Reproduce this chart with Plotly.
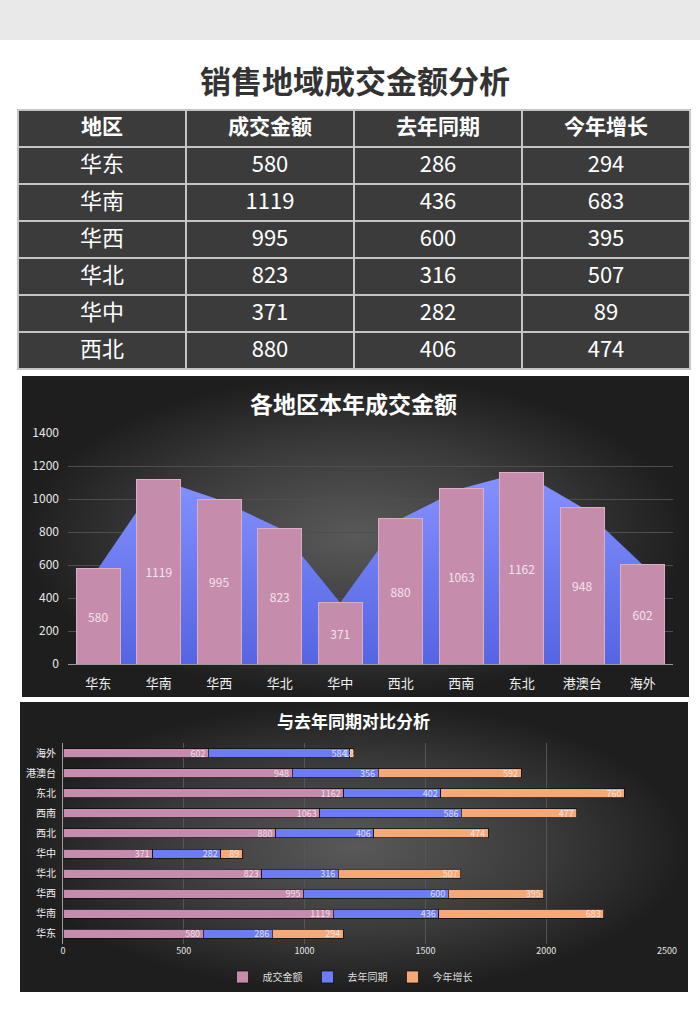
import plotly.graph_objects as go

# ---------------- data ----------------
regions = ['华东', '华南', '华西', '华北', '华中', '西北', '西南', '东北', '港澳台', '海外']
amount = [580, 1119, 995, 823, 371, 880, 1063, 1162, 948, 602]
last_year = [286, 436, 600, 316, 282, 406, 586, 402, 356, 584]
growth = [294, 683, 395, 507, 89, 474, 477, 760, 592, 18]
table_header = ['地区', '成交金额', '去年同期', '今年增长']
table_rows = 6
y_ticks_mid = [0, 200, 400, 600, 800, 1000, 1200, 1400]
x_ticks_bot = [0, 500, 1000, 1500, 2000, 2500]

W, H = 700, 1030
FONT = "Noto Sans CJK SC"


def px_x(v):
    return v / W


def px_y(v):
    return 1 - v / H


PINK = '#c68cab'
BLUE = '#6e7bf6'
ORANGE = '#f5a878'

fig = go.Figure()

# background panels (decoration) on a pixel-space axis
panels = [(22, 376, 689, 697), (20, 702, 688, 992)]
for (x0, y0, x1, y1) in panels:
    fig.add_trace(go.Scatter(
        x=[x0, x1, x1, x0, x0], y=[y0, y0, y1, y1, y0],
        mode='lines', line=dict(width=0), fill='toself',
        fillgradient=dict(type='radial', colorscale=[[0, '#595959'], [0.6, '#393939'], [1, '#1e1e1e']]),
        hoverinfo='skip', showlegend=False, xaxis='x', yaxis='y'))

# table
fig.add_trace(go.Table(
    domain=dict(x=[px_x(18), px_x(690)], y=[px_y(374), px_y(110)]),
    columnwidth=[1, 1, 1, 1],
    header=dict(values=table_header,
                fill_color='#3b3b3b', line=dict(color='#c4c4c4', width=2),
                font=dict(family=FONT, size=21, color='white', weight='bold'), height=37, align='center'),
    cells=dict(values=[regions[:table_rows], amount[:table_rows], last_year[:table_rows], growth[:table_rows]],
               fill_color='#3b3b3b', line=dict(color='#c4c4c4', width=2),
               font=dict(family=FONT, size=22, color='white'), height=37, align='center'),
))

# middle chart: area (base axes) + bars (overlay axes, drawn on top)
fig.add_trace(go.Scatter(
    x=regions, y=amount, mode='lines', line=dict(width=0, color=BLUE), fill='tozeroy',
    fillgradient=dict(type='vertical', colorscale=[[0, '#5564e2'], [1, '#8592ff']]),
    showlegend=False, hoverinfo='skip', xaxis='x2', yaxis='y2'))
fig.add_trace(go.Bar(
    x=regions, y=amount, marker=dict(color=PINK, line=dict(color='#dcaec6', width=1)),
    text=amount, textposition='inside', insidetextanchor='middle', textangle=0,
    textfont=dict(family=FONT, size=12, color='#f3e4ec'),
    showlegend=False, xaxis='x4', yaxis='y4'))

# bottom chart: stacked horizontal bars
for name, vals, col in [('成交金额', amount, PINK), ('去年同期', last_year, BLUE), ('今年增长', growth, ORANGE)]:
    fig.add_trace(go.Bar(
        y=regions, x=vals, name=name, orientation='h', width=0.45,
        marker=dict(color=col, line=dict(color='rgba(10,10,10,0.7)', width=1)),
        text=vals, textposition='inside', insidetextanchor='end', constraintext='none', textangle=0,
        textfont=dict(family=FONT, size=9, color='rgba(245,240,245,0.85)'),
        xaxis='x3', yaxis='y3'))

mid_dom_x = [px_x(68), px_x(673)]
mid_dom_y = [px_y(664), px_y(433)]

fig.update_layout(
    width=W, height=H, margin=dict(l=0, r=0, t=0, b=0, autoexpand=False),
    paper_bgcolor='white', plot_bgcolor='rgba(0,0,0,0)',
    barmode='stack', bargap=0.27,
    font=dict(family=FONT),
    xaxis=dict(domain=[0, 1], range=[0, W], visible=False, fixedrange=True),
    yaxis=dict(domain=[0, 1], range=[H, 0], visible=False, fixedrange=True),
    xaxis2=dict(domain=mid_dom_x, anchor='y2', showgrid=False, type='category',
                categoryorder='array', categoryarray=regions, range=[-0.5, len(regions) - 0.5],
                showline=True, linecolor='#9a9a9a', linewidth=1, ticks='',
                tickfont=dict(family=FONT, size=13, color='#f0f0f0'), ticklabelstandoff=7),
    yaxis2=dict(domain=mid_dom_y, anchor='x2', range=[0, 1400],
                tickvals=y_ticks_mid, showgrid=True, gridcolor='#4e4e4e', zeroline=False,
                tickfont=dict(family=FONT, size=12, color='#e8e8e8'), ticklabelstandoff=8),
    xaxis4=dict(overlaying='x2', anchor='y4', type='category', categoryorder='array',
                categoryarray=regions, range=[-0.5, len(regions) - 0.5], visible=False),
    yaxis4=dict(overlaying='y2', anchor='x4', range=[0, 1400], visible=False),
    xaxis3=dict(domain=[px_x(63), px_x(667)], anchor='y3', range=[0, 2500],
                tickvals=x_ticks_bot, showgrid=True, gridcolor='#555555', zeroline=False,
                tickfont=dict(family=FONT, size=9, color='#e8e8e8')),
    yaxis3=dict(domain=[px_y(944), px_y(743)], anchor='x3', showline=True, linecolor='#9a9a9a',
                showgrid=False, ticks='', tickfont=dict(family=FONT, size=10, color='#f0f0f0'),
                ticklabelstandoff=4),
    legend=dict(orientation='h', x=0.5, xanchor='center', y=px_y(977), yanchor='middle',
                font=dict(family=FONT, size=10, color='#dddddd'), bgcolor='rgba(0,0,0,0)',
                itemwidth=30, entrywidth=40, entrywidthmode='pixels', traceorder='normal'),
    shapes=[dict(type='rect', xref='paper', yref='paper', x0=0, x1=1, y0=px_y(40), y1=1,
                 fillcolor='#e9e9e9', line=dict(width=0), layer='below')],
    annotations=[
        dict(text='<b>销售地域成交金额分析</b>', x=px_x(355), y=px_y(80), xref='paper', yref='paper',
             xanchor='center', yanchor='middle',
             showarrow=False, font=dict(family=FONT, size=31, color='#333333')),
        dict(text='<b>各地区本年成交金额</b>', x=px_x(354), y=px_y(403), xref='paper', yref='paper',
             xanchor='center', yanchor='middle',
             showarrow=False, font=dict(family=FONT, size=23, color='white')),
        dict(text='<b>与去年同期对比分析</b>', x=px_x(354), y=px_y(720), xref='paper', yref='paper',
             xanchor='center', yanchor='middle',
             showarrow=False, font=dict(family=FONT, size=17, color='white')),
    ],
)

fig.write_html("out.html",
               post_script="document.body.style.margin='0';document.body.style.overflow='hidden';")
